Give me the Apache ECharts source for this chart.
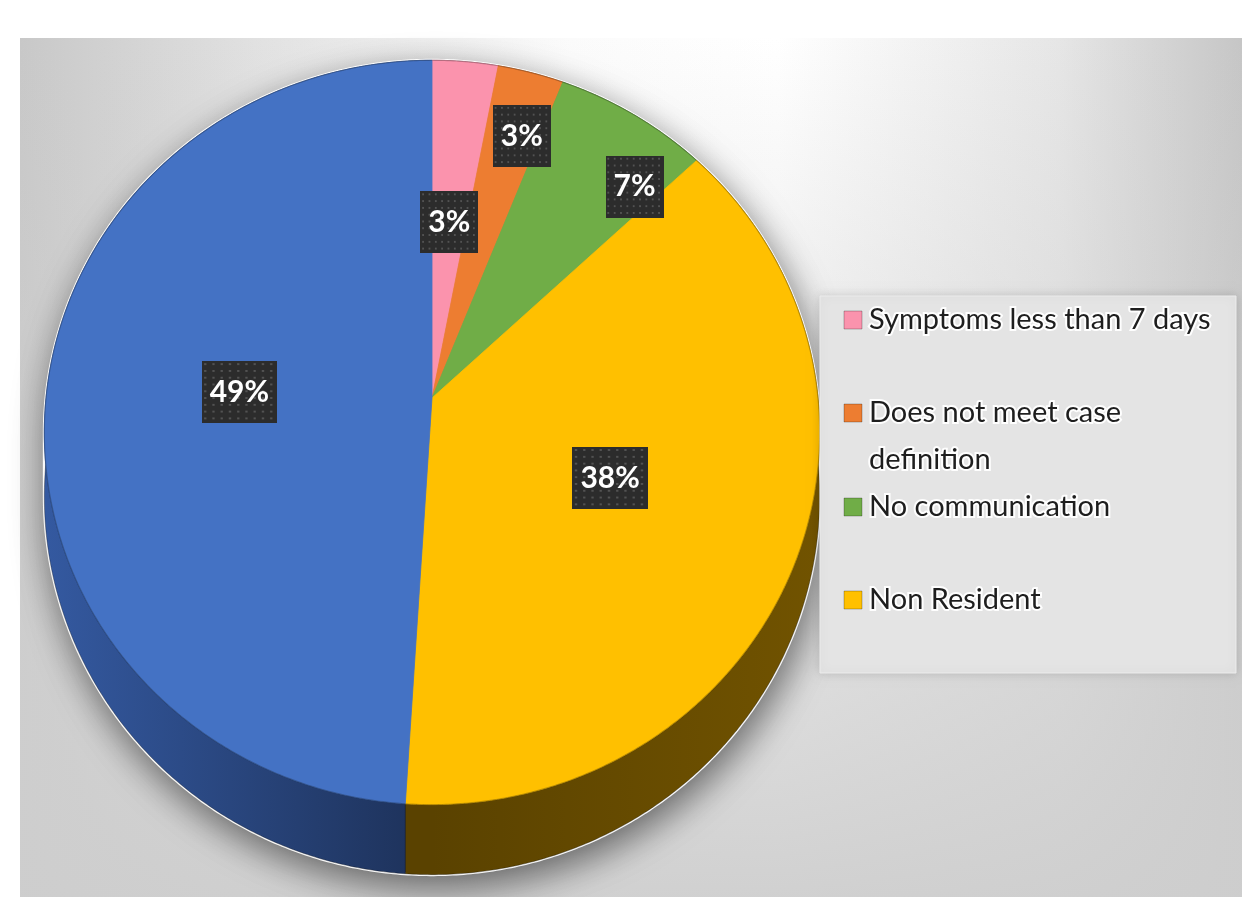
<!DOCTYPE html>
<html>
<head>
<meta charset="utf-8">
<script src="https://cdn.jsdelivr.net/npm/echarts@6/dist/echarts.min.js"></script>
<style>
  html, body { margin: 0; padding: 0; background: #ffffff; }
  #chart { width: 1242px; height: 897px; }
</style>
</head>
<body>
<div id="chart"></div>
<script>
// ---- data ----
const categories = [
  'Symptoms less than 7 days',
  'Does not meet case definition',
  'No communication',
  'Non Resident',
  'Other'
];
const shares = [3, 3, 7, 38, 49];          // percent of cases
const legendNames = categories.slice(0, 4); // entries listed in the legend

// ---- styling ----
const faceColors = ['#fb93ad', '#ed7d31', '#70ad47', '#ffc000', '#4472c4'];
const sideStops = [
  ['#8c4d5d', '#6e3545', '#8c4d5d'],
  ['#84441a', '#6a3512', '#84441a'],
  ['#3f6128', '#2f4a1e', '#3f6128'],
  ['#5a4200', '#5a4200', '#715300'],
  ['#3459a0', '#1d3159', '#1d3159']
];
// where each percentage box sits: fraction of the radius, fraction along the slice
const labelRadius = [0.5, 0.8, 0.82, 0.5, 0.5];
const labelSpan = [0.5, 0.68, 0.83, 0.5, 0.5];

// ---- tilted pie geometry ----
const CX = 432, CY = 398, RX = 386, RY = 369, TILT = 0.0926, DEPTH = 63.5;

function project(t, r, drop) {
  const u = r * Math.sin(t), v = -r * Math.cos(t);
  const w = 1 - TILT * v;
  return [CX + RX * u / w, CY + (RY * v + drop) / w];
}
function arc(t0, t1, drop) {
  const n = Math.max(2, Math.ceil(Math.abs(t1 - t0) / (Math.PI / 360)));
  const pts = [];
  for (let j = 0; j <= n; j++) pts.push(project(t0 + (t1 - t0) * j / n, 1, drop));
  return pts;
}

const total = shares.reduce((a, b) => a + b, 0);
const bounds = [];
(function () {
  let acc = 0;
  shares.forEach(v => {
    const a0 = acc / total * 2 * Math.PI;
    acc += v;
    bounds.push([a0, acc / total * 2 * Math.PI]);
  });
})();

// dotted dark texture for the percentage boxes
const dotTexture = (function () {
  const c = document.createElement('canvas');
  c.width = 64; c.height = 64;
  const g = c.getContext('2d');
  g.fillStyle = '#2c2c2c';
  g.fillRect(0, 0, 64, 64);
  g.fillStyle = 'rgba(150,150,150,0.55)';
  for (let y = 3; y < 64; y += 7) {
    for (let x = 3; x < 64; x += 7) {
      g.beginPath(); g.arc(x, y, 0.9, 0, Math.PI * 2); g.fill();
    }
  }
  return c;
})();

function renderBody(params, api) {
  const i = params.dataIndex;
  const [a0, a1] = bounds[i];
  const children = [];
  if (i === 0) {
    const tE = Math.acos(-TILT);
    const outline = arc(2 * Math.PI - tE, 2 * Math.PI + tE, 0).concat(arc(tE, 2 * Math.PI - tE, DEPTH));
    children.push({
      type: 'polygon', z2: -5,
      shape: { points: outline },
      style: {
        fill: '#777', stroke: 'rgba(255,255,255,0.95)', lineWidth: 3,
        shadowBlur: 34, shadowColor: 'rgba(0,0,0,0.5)', shadowOffsetX: 4, shadowOffsetY: 12
      }
    });
  }
  const pts = arc(a0, a1, 0).concat(arc(a1, a0, DEPTH));
  const s = sideStops[i];
  children.push({
    type: 'polygon', z2: 0,
    shape: { points: pts },
    style: {
      fill: new echarts.graphic.LinearGradient(CX - RX, 0, CX + RX, 0, [
        { offset: 0, color: s[0] }, { offset: 0.5, color: s[1] }, { offset: 1, color: s[2] }
      ], true),
      stroke: 'rgba(0,0,0,0.3)', lineWidth: 1
    }
  });
  return { type: 'group', children };
}

function renderFace(params, api) {
  const i = params.dataIndex;
  const [a0, a1] = bounds[i];
  const pts = [project(0, 0, 0)].concat(arc(a0, a1, 0));
  const tl = a0 + (a1 - a0) * labelSpan[i];
  const p = project(tl, labelRadius[i], 0);
  const pct = Math.round(api.value(0) / total * 100) + '%';
  return {
    type: 'group',
    children: [
      {
        type: 'polygon', z2: 1,
        shape: { points: pts },
        style: { fill: faceColors[i], stroke: faceColors[i], lineWidth: 0.8 }
      },
      {
        type: 'polyline', z2: 2,
        shape: { points: arc(a0, a1, 0) },
        style: { fill: null, stroke: 'rgba(0,0,0,0.22)', lineWidth: 1.2 }
      },
      {
        type: 'text', z2: 20, x: p[0], y: p[1],
        style: {
          text: pct,
          font: 'bold 30px Lato, "Liberation Sans", sans-serif',
          fill: '#ffffff',
          align: 'center', verticalAlign: 'middle',
          textAlign: 'center', textVerticalAlign: 'middle',
          lineHeight: 36,
          padding: [13, 8, 13, 8],
          backgroundColor: { image: dotTexture },
          shadowBlur: 8, shadowColor: 'rgba(0,0,0,0.55)', shadowOffsetX: 3, shadowOffsetY: 4
        }
      }
    ]
  };
}

function wrapWords(text, maxChars) {
  const words = text.split(' ');
  const lines = [];
  let line = '';
  words.forEach(w => {
    const next = line ? line + ' ' + w : w;
    if (next.length > maxChars && line) { lines.push(line); line = w; }
    else line = next;
  });
  if (line) lines.push(line);
  return lines.join('\n');
}

// ---- background panel and legend ----
const graphicEls = [
  {
    type: 'rect', z: -10,
    shape: { x: 20, y: 38, width: 1222, height: 859 },
    style: {
      fill: new echarts.graphic.LinearGradient(0, 0, 1, 0, [
        { offset: 0, color: '#c8c8c8' },
        { offset: 0.2, color: '#e2e2e2' },
        { offset: 0.45, color: '#fbfbfb' },
        { offset: 0.62, color: '#ffffff' },
        { offset: 0.85, color: '#e6e6e6' },
        { offset: 1, color: '#c6c6c6' }
      ])
    }
  },
  {
    type: 'rect', z: -9,
    shape: { x: 20, y: 38, width: 1222, height: 859 },
    style: {
      fill: new echarts.graphic.LinearGradient(0, 0, 0, 1, [
        { offset: 0, color: 'rgba(206,206,206,0)' },
        { offset: 0.45, color: 'rgba(210,210,210,0.45)' },
        { offset: 1, color: 'rgba(206,206,206,0.95)' }
      ])
    }
  },
  {
    type: 'rect', z: 5,
    shape: { x: 820, y: 296, width: 416, height: 377 },
    style: {
      fill: '#e4e4e4', stroke: '#ececec', lineWidth: 1,
      shadowBlur: 10, shadowColor: 'rgba(0,0,0,0.15)'
    }
  }
];

const legendRowY = [320, 413, 507, 600];
legendNames.forEach((name, i) => {
  graphicEls.push({
    type: 'rect', z: 6,
    shape: { x: 844, y: legendRowY[i] - 9, width: 18, height: 18 },
    style: { fill: faceColors[i], stroke: 'rgba(0,0,0,0.25)', lineWidth: 1 }
  });
  graphicEls.push({
    type: 'text', z: 6, x: 869, y: legendRowY[i] - 23.5,
    style: {
      text: wrapWords(name, 26),
      font: '29px Lato, "Liberation Sans", sans-serif',
      lineHeight: 47,
      fill: '#1e1e1e',
      stroke: 'rgba(255,255,255,0.95)', lineWidth: 4,
      align: 'left', verticalAlign: 'top',
      textAlign: 'left', textVerticalAlign: 'top'
    }
  });
});

const chart = echarts.init(document.getElementById('chart'), null, { renderer: 'canvas' });
const seriesData = shares.map((v, i) => ({ name: categories[i], value: v }));

chart.setOption({
  animation: false,
  backgroundColor: '#ffffff',
  graphic: { elements: graphicEls },
  series: [
    {
      type: 'custom', name: 'body', coordinateSystem: 'none', z: 2,
      renderItem: renderBody, data: seriesData, silent: true
    },
    {
      type: 'custom', name: 'faces', coordinateSystem: 'none', z: 3,
      renderItem: renderFace, data: seriesData, silent: true
    }
  ]
});
</script>
</body>
</html>
